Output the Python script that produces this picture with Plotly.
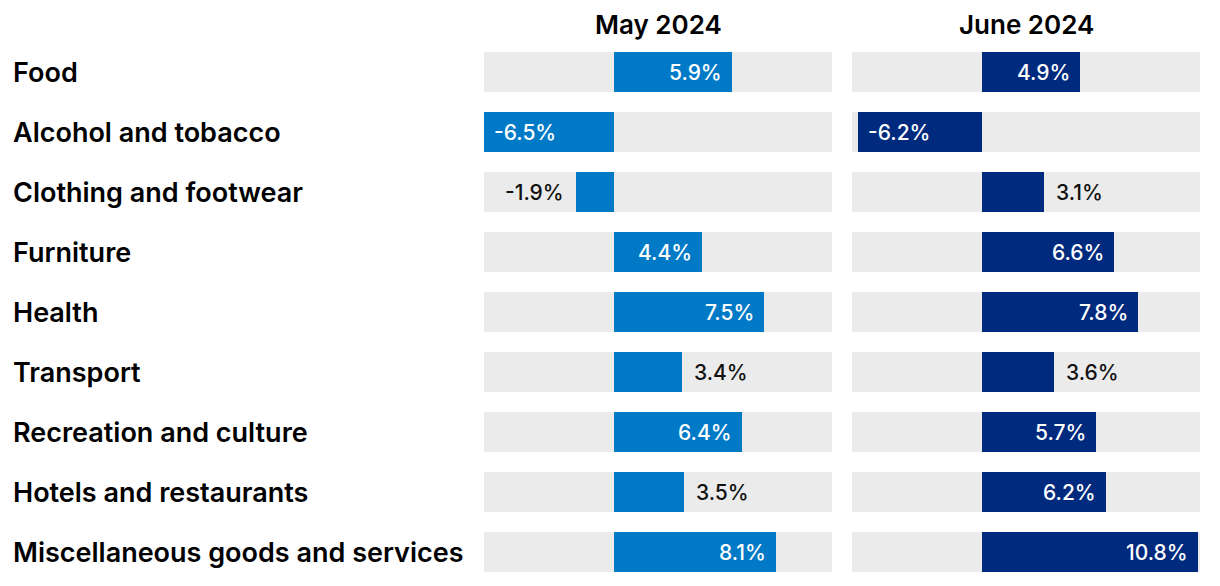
import plotly.graph_objects as go
from plotly.subplots import make_subplots

categories = ["Food", "Alcohol and tobacco", "Clothing and footwear", "Furniture", "Health",
              "Transport", "Recreation and culture", "Hotels and restaurants",
              "Miscellaneous goods and services"]
may_2024 = [5.9, -6.5, -1.9, 4.4, 7.5, 3.4, 6.4, 3.5, 8.1]
june_2024 = [4.9, -6.2, 3.1, 6.6, 7.8, 3.6, 5.7, 6.2, 10.8]
panel_titles = ["May 2024", "June 2024"]

# layout constants (figure sits inside the page's 8px body margin)
W, H = 1204, 570
TOP = 34
ROW_PX = 60
X_MIN, X_MAX = -6.5, 10.9
COLORS = ["#007ac7", "#002a7e"]
GREY = "#ebebeb"
FONT = "Inter"
DOMAINS = [[476 / W, 824 / W], [844 / W, 1192 / W]]

fig = make_subplots(rows=1, cols=2, shared_yaxes=True, horizontal_spacing=0.0)

annotations = []
for i, (vals, color) in enumerate(zip([may_2024, june_2024], COLORS)):
    col = i + 1
    fig.add_trace(go.Bar(y=categories, x=[X_MAX - X_MIN] * len(categories), base=X_MIN,
                         orientation="h", marker=dict(color=GREY, line=dict(width=0)),
                         width=0.667, hoverinfo="skip", showlegend=False), row=1, col=col)
    fig.add_trace(go.Bar(y=categories, x=vals, orientation="h",
                         marker=dict(color=color, line=dict(width=0)),
                         width=0.667, showlegend=False), row=1, col=col)
    xref = "x" if col == 1 else "x2"
    yref = "y" if col == 1 else "y2"
    for c, v in zip(categories, vals):
        inside = abs(v) >= 4
        sign = 1 if v >= 0 else -1
        if inside:
            xanchor = "right" if v >= 0 else "left"
            shift = -8 * sign
            fcol = "white"
        else:
            xanchor = "left" if v >= 0 else "right"
            shift = 10 * sign
            fcol = "#111111"
        annotations.append(dict(x=v, y=c, xref=xref, yref=yref, text=f"{v:.1f}%",
                                showarrow=False, xanchor=xanchor, xshift=shift, yshift=0,
                                font=dict(family=FONT, size=21, color=fcol, weight=500)))

for c in categories:
    annotations.append(dict(x=3 / W, y=c, xref="paper", yref="y", text=c, showarrow=False,
                            xanchor="left",
                            font=dict(family=FONT, size=27, color="#000000", weight=600)))

span = (H - TOP) / ROW_PX
fig.update_layout(bargap=0.333, barmode="overlay")
fig.update_xaxes(range=[X_MIN, X_MAX], showgrid=False, zeroline=False, showticklabels=False,
                 fixedrange=True)
fig.update_xaxes(domain=DOMAINS[0], row=1, col=1)
fig.update_xaxes(domain=DOMAINS[1], row=1, col=2)
fig.update_yaxes(range=[-0.5 + span, -0.5], showgrid=False, zeroline=False,
                 showticklabels=False, categoryorder="array", categoryarray=categories)

for i, t in enumerate(panel_titles):
    dom = DOMAINS[i]
    annotations.append(dict(x=(dom[0] + dom[1]) / 2, y=1, xref="paper", yref="paper",
                            text=t, showarrow=False, xanchor="center", yanchor="middle",
                            yshift=18,
                            font=dict(family=FONT, size=26, color="#000000", weight=600)))

fig.update_layout(annotations=annotations, width=W, height=H,
                  margin=dict(l=0, r=0, t=TOP, b=0),
                  plot_bgcolor="white", paper_bgcolor="white")

fig.write_html("out.html", config={"displayModeBar": False})
